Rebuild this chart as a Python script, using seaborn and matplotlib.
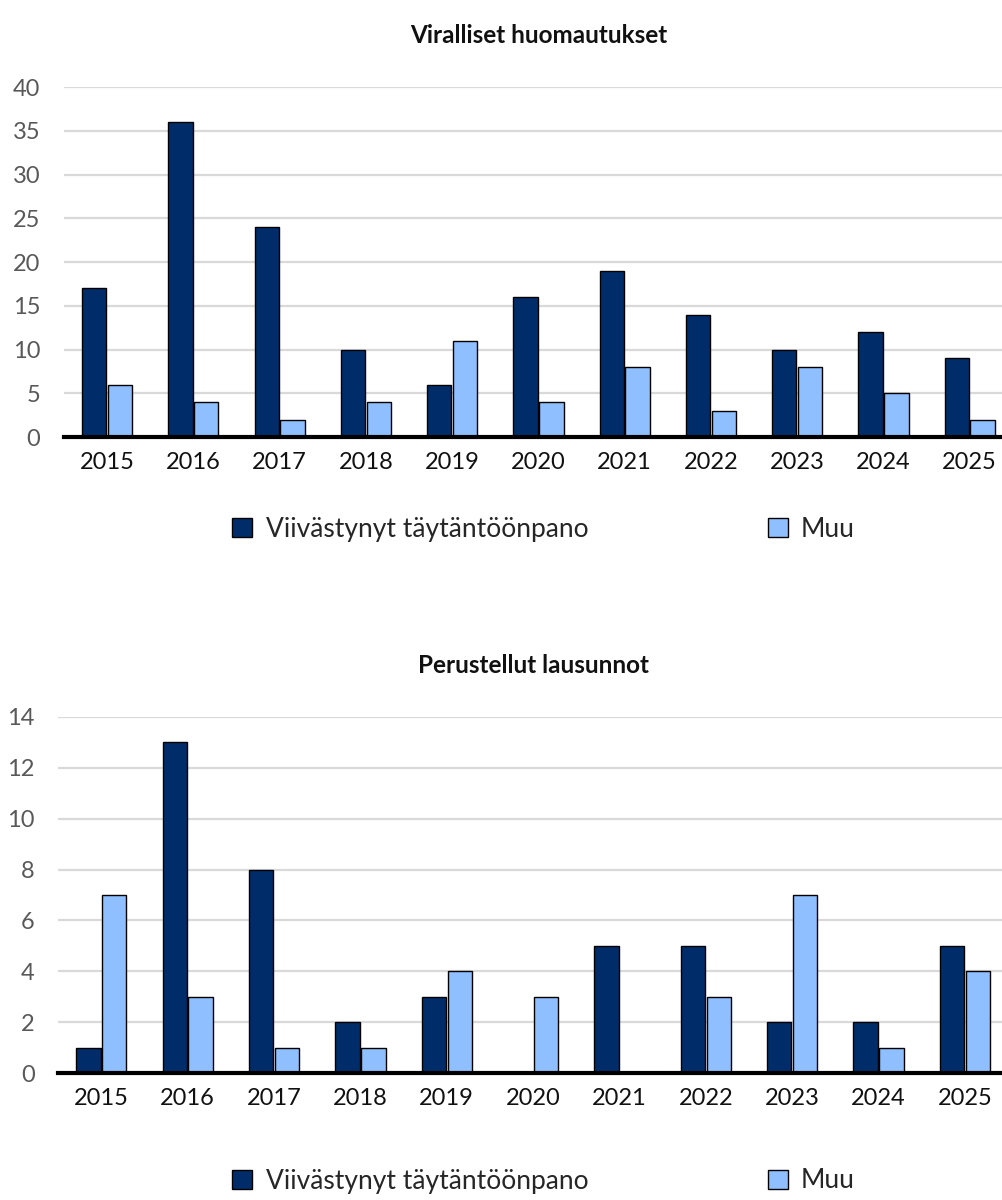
import matplotlib
matplotlib.use("Agg")
import matplotlib.pyplot as plt
import seaborn as sns
import pandas as pd
from matplotlib.patches import Patch

years = ["2015", "2016", "2017", "2018", "2019", "2020", "2021", "2022", "2023", "2024", "2025"]
series_names = ["Viivästynyt täytäntöönpano", "Muu"]

top_delayed = [17, 36, 24, 10, 6, 16, 19, 14, 10, 12, 9]
top_other = [6, 4, 2, 4, 11, 4, 8, 3, 8, 5, 2]
bottom_delayed = [1, 13, 8, 2, 3, 0, 5, 5, 2, 2, 5]
bottom_other = [7, 3, 1, 1, 4, 3, 0, 3, 7, 1, 4]

top_title = "Viralliset huomautukset"
bottom_title = "Perustellut lausunnot"

colors = ["#002D6A", "#8FBFFF"]

sns.set_theme(style="white")
plt.rcParams["font.family"] = ["Lato", "DejaVu Sans"]

fig = plt.figure(figsize=(10.03, 12), dpi=100)


def long_df(d, o):
    return pd.DataFrame({
        "year": years * 2,
        "value": d + o,
        "series": [series_names[0]] * len(years) + [series_names[1]] * len(years),
    })


def draw(ax, d, o, ymax, step, title):
    df = long_df(d, o)
    sns.barplot(data=df, x="year", y="value", hue="series", order=years,
                hue_order=series_names, palette=colors, saturation=1, width=0.6, gap=0.06,
                edgecolor="black", linewidth=1.0, ax=ax, legend=False)
    ax.set_ylim(0, ymax)
    ax.set_xlim(-0.5, len(years) - 0.5)
    ax.set_yticks(range(0, ymax + 1, step))
    ax.yaxis.grid(True, color="#D9D9D9", linewidth=1.6)
    ax.set_axisbelow(True)
    for s in ["top", "right", "left"]:
        ax.spines[s].set_visible(False)
    ax.spines["bottom"].set_color("black")
    ax.spines["bottom"].set_linewidth(3)
    ax.spines["bottom"].set_zorder(5)
    ax.tick_params(axis="y", length=0, pad=17, labelsize=17, labelcolor="#595959")
    ax.tick_params(axis="x", length=0, pad=11, labelsize=17, labelcolor="#111111")
    ax.set_xlabel("")
    ax.set_ylabel("")
    ax.set_title(title, fontsize=17.5, fontweight="bold", pad=32, color="#111111")


ax1 = fig.add_axes([0.0638, 0.6358, 0.946, 0.2917])
draw(ax1, top_delayed, top_other, 40, 5, top_title)

ax2 = fig.add_axes([0.058, 0.1058, 0.947, 0.2967])
draw(ax2, bottom_delayed, bottom_other, 14, 2, bottom_title)

handles = [Patch(facecolor=colors[0], edgecolor="black", linewidth=1.0),
           Patch(facecolor=colors[1], edgecolor="black", linewidth=1.0)]

for ycen in [1 - 529 / 1200, 1 - 1181 / 1200]:
    fig.legend(handles, series_names, loc="center", bbox_to_anchor=(0.542, ycen),
               ncol=2, frameon=False, fontsize=19, handlelength=0.76, handleheight=0.76,
               handletextpad=0.5, columnspacing=6.8)

fig.savefig("out.png", dpi=100)
